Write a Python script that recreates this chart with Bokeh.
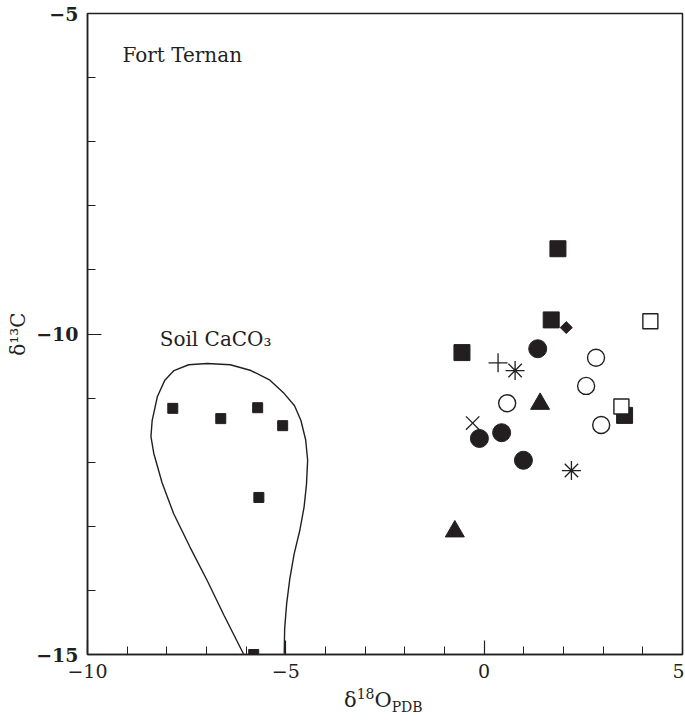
import math
from bokeh.plotting import figure
from bokeh.models import FixedTicker, Label, Div
from bokeh.layouts import column
from bokeh.embed import file_html
from bokeh.resources import INLINE

# ---- data ----
soil_x = [-7.85, -6.64, -5.71, -5.08, -5.68, -5.81]
soil_y = [-11.16, -11.32, -11.15, -11.43, -12.55, -15.0]

# soil carbonate envelope outline
env_x = [-6.06, -6.55, -6.98, -7.42, -7.83, -8.12, -8.33, -8.40, -8.37, -8.24, -8.05,
         -7.82, -7.45, -6.98, -6.40, -5.88, -5.40, -5.04, -4.78, -4.62, -4.50, -4.45,
         -4.48, -4.54, -4.65, -4.79, -4.90, -4.98, -5.03, -5.04]
env_y = [-15.0, -14.40, -13.85, -13.32, -12.80, -12.32, -11.86, -11.60, -11.35, -10.98, -10.72,
         -10.57, -10.48, -10.46, -10.48, -10.57, -10.72, -10.93, -11.12, -11.35, -11.65, -11.97,
         -12.35, -12.70, -13.07, -13.43, -13.82, -14.21, -14.60, -14.99]

fsq_x = [1.86, 1.69, -0.56, 3.54]
fsq_y = [-8.67, -9.78, -10.29, -11.27]

osq_x = [4.19, 3.46]
osq_y = [-9.80, -11.13]

dia_x = [2.07]
dia_y = [-9.90]

fci_x = [1.35, -0.12, 0.44, 0.99]
fci_y = [-10.23, -11.63, -11.54, -11.97]

oci_x = [2.82, 2.57, 0.58, 2.95]
oci_y = [-10.37, -10.81, -11.08, -11.42]

tri_x = [1.41, -0.74]
tri_y = [-11.09, -13.08]

plus_x = [0.35]
plus_y = [-10.45]

ast_x = [0.78, 2.20]
ast_y = [-10.57, -12.13]

xm_x = [-0.29]
xm_y = [-11.39]

x_major = [-10, -5, 0, 5]
y_major = [-15, -10, -5]
x_labels = {-10: "\u221210", -5: "\u22125", 0: "0", 5: "5"}
y_labels = {-15: "\u221215", -10: "\u221210", -5: "\u22125"}

INK = "#231f20"
FONT = "DejaVu Serif"
W, H = 684, 684

p = figure(width=W, height=H, x_range=(-10, 5), y_range=(-15, -5),
           output_backend="svg", toolbar_location=None,
           min_border_left=87, min_border_right=2, min_border_top=13, min_border_bottom=30)
p.grid.visible = False
p.outline_line_color = INK
p.outline_line_width = 1.5
p.background_fill_color = "white"
p.border_fill_color = "white"

p.xaxis.ticker = FixedTicker(ticks=x_major, minor_ticks=list(range(-10, 6)))
p.yaxis.ticker = FixedTicker(ticks=y_major, minor_ticks=list(range(-15, -4)))
p.xaxis.major_label_overrides = x_labels
p.yaxis.major_label_overrides = y_labels
for ax in (p.xaxis, p.yaxis):
    ax.axis_line_color = INK
    ax.axis_line_width = 1.5
    ax.major_tick_line_color = INK
    ax.minor_tick_line_color = INK
    ax.major_tick_line_width = 1.2
    ax.minor_tick_line_width = 1.0
    ax.major_tick_in = 14
    ax.major_tick_out = 0
    ax.minor_tick_in = 8
    ax.minor_tick_out = 0
    ax.major_label_text_font = FONT
    ax.major_label_text_font_size = "19px"
    ax.major_label_text_color = INK
    ax.major_label_standoff = 9
p.yaxis.major_label_text_font_style = "bold"

p.yaxis.axis_label = "\u03b4\u00b9\u00b3C"
p.yaxis.axis_label_text_font = FONT
p.yaxis.axis_label_text_font_size = "20px"
p.yaxis.axis_label_text_font_style = "normal"
p.yaxis.axis_label_text_color = INK
p.yaxis.axis_label_standoff = 3

# envelope
p.line(env_x, env_y, line_color=INK, line_width=1.4)

# markers
p.scatter(soil_x, soil_y, marker="square", size=10, fill_color=INK, line_color=INK)
p.scatter(fsq_x, fsq_y, marker="square", size=16, fill_color=INK, line_color=INK)
p.scatter(osq_x, osq_y, marker="square", size=15, fill_color="white", line_color=INK, line_width=1.4)
p.scatter(dia_x, dia_y, marker="square", size=8.5, angle=math.pi / 4, fill_color=INK, line_color=INK)
p.scatter(fci_x, fci_y, marker="circle", size=18, fill_color=INK, line_color=INK)
p.scatter(oci_x, oci_y, marker="circle", size=17, fill_color="white", line_color=INK, line_width=1.4)
p.scatter(tri_x, tri_y, marker="triangle", size=19, fill_color=INK, line_color=INK)
p.scatter(plus_x, plus_y, marker="cross", size=19, line_color=INK, line_width=1.3)
p.scatter(ast_x, ast_y, marker="asterisk", size=19, line_color=INK, line_width=1.3)
p.scatter(xm_x, xm_y, marker="x", size=19, line_color=INK, line_width=1.3)

# texts inside the frame
p.add_layout(Label(x=-9.12, y=-5.64, text="Fort Ternan", text_font=FONT, text_font_size="20px",
                   text_color=INK, text_align="left", text_baseline="middle"))
p.add_layout(Label(x=-8.18, y=-10.08, text="Soil CaCO\u2083", text_font=FONT, text_font_size="20px",
                   text_color=INK, text_align="left", text_baseline="middle"))

# x axis title with sub/superscripts
xlabel_html = (
    '<div style="position:absolute; left:344px; top:4px; white-space:nowrap; '
    "font-family:'DejaVu Serif'; font-size:21px; line-height:24px; color:#231f20;\">"
    '\u03b4<sup style="font-size:14px; line-height:0;">18</sup>O'
    '<sub style="font-size:14px; line-height:0;">PDB</sub></div>'
)
xlabel = Div(text=xlabel_html, width=W, height=36, margin=0)

layout = column(p, xlabel, spacing=0)

open("out.html", "w").write(file_html(layout, INLINE))
